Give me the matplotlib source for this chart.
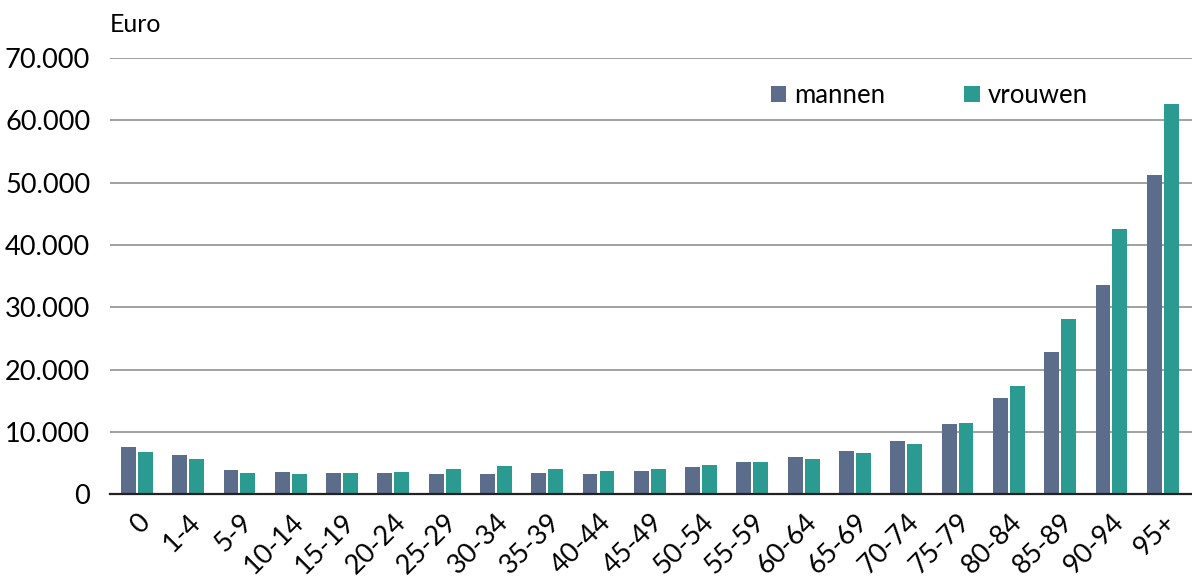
import matplotlib.pyplot as plt
import numpy as np

plt.rcParams['font.family'] = ['Lato', 'DejaVu Sans']

# age groups and costs per person (euro)
ages = ['0', '1-4', '5-9', '10-14', '15-19', '20-24', '25-29', '30-34', '35-39',
        '40-44', '45-49', '50-54', '55-59', '60-64', '65-69', '70-74', '75-79',
        '80-84', '85-89', '90-94', '95+']
mannen = [7500, 6300, 3900, 3500, 3400, 3400, 3200, 3200, 3400,
          3300, 3700, 4300, 5200, 6000, 7000, 8600, 11300,
          15400, 22800, 33500, 51200]
vrouwen = [6700, 5600, 3400, 3200, 3400, 3500, 4000, 4500, 4000,
           3700, 4100, 4600, 5200, 5700, 6600, 8000, 11500,
           17400, 28100, 42500, 62600]

c_man = '#5b6d8b'
c_vrouw = '#2b9b91'

fig = plt.figure(figsize=(11.92, 5.8), dpi=100)
ax = fig.add_axes([0.092, 0.148, 0.908, 0.752])

x = np.arange(len(ages))
w = 0.29
ax.bar(x - w/2 - 0.02, mannen, w, color=c_man, label='mannen', zorder=3)
ax.bar(x + w/2 + 0.02, vrouwen, w, color=c_vrouw, label='vrouwen', zorder=3)

ax.set_xlim(-0.53, 20.57)
ax.set_ylim(0, 70000)
yt = np.arange(0, 70001, 10000)
ax.set_yticks(yt)
ax.set_yticklabels(['0'] + [f'{v // 1000}.000' for v in yt[1:]], fontsize=19.5)
ax.grid(axis='y', color='#9a9a9a', linewidth=1.3, zorder=0)
ax.set_axisbelow(True)

ax.set_xticks(x)
ax.set_xticklabels(ages, rotation=45, ha='right', rotation_mode='anchor', fontsize=19.5)
ax.tick_params(axis='both', length=0)
ax.tick_params(axis='y', pad=14)
ax.tick_params(axis='x', pad=11)

for s in ['left', 'right', 'top']:
    ax.spines[s].set_visible(False)
ax.spines['bottom'].set_color('#222222')
ax.spines['bottom'].set_linewidth(1.6)
ax.spines['bottom'].set_zorder(4)

fig.text(0.092, 0.957, 'Euro', fontsize=18, ha='left', va='center')

ax.legend(loc='upper right', bbox_to_anchor=(0.925, 0.995), ncol=2, frameon=False,
          fontsize=18.5, handlelength=0.6, handleheight=0.6, handletextpad=0.3,
          columnspacing=3.1)

plt.savefig('out.png', dpi=100)
